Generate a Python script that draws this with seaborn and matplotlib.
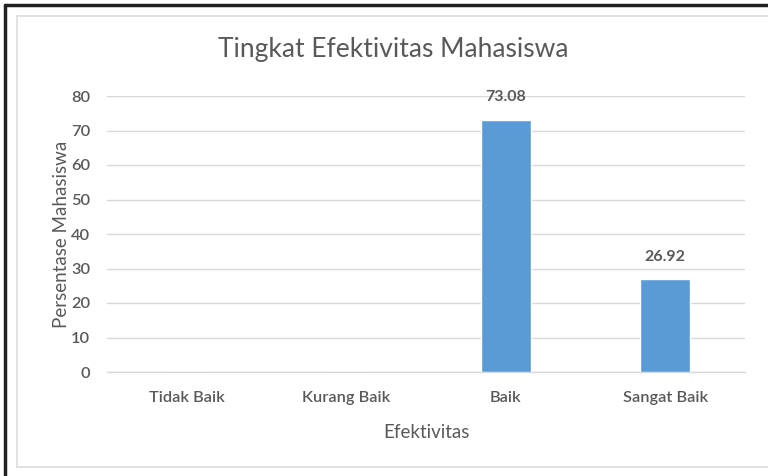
import matplotlib
matplotlib.use("Agg")
import matplotlib.pyplot as plt
import seaborn as sns
import pandas as pd
from matplotlib.lines import Line2D

categories = ["Tidak Baik", "Kurang Baik", "Baik", "Sangat Baik"]
values = [0, 0, 73.08, 26.92]
yticks = [0, 10, 20, 30, 40, 50, 60, 70, 80]
title = "Tingkat Efektivitas Mahasiswa"
xlabel = "Efektivitas"
ylabel = "Persentase Mahasiswa"

sns.set_theme(style="white")
plt.rcParams["font.family"] = ["Lato", "DejaVu Sans"]

df = pd.DataFrame({"cat": categories, "val": values})
grey = "#595959"
bar_color = "#5B9BD5"

fig = plt.figure(figsize=(7.68, 4.76), dpi=100)
ax = fig.add_axes([107/768, 1-372/476, (745-107)/768, (372-96)/476])

sns.barplot(data=df, x="cat", y="val", color=bar_color, width=0.315,
            saturation=1, ax=ax, zorder=3)
ax.set_xlim(-0.5, 3.5)
ax.set_ylim(0, 80)
ax.set_yticks(yticks)
ax.grid(axis="y", color="#D9D9D9", linewidth=1, zorder=0)
ax.grid(axis="x", visible=False)
for s in ["top", "right", "left"]:
    ax.spines[s].set_visible(False)
ax.spines["bottom"].set_color("#D9D9D9")
ax.spines["bottom"].set_linewidth(1)
ax.tick_params(axis="both", length=0, colors=grey, labelsize=11.8)
ax.tick_params(axis="x", pad=14)
ax.tick_params(axis="y", pad=12)
for lab in ax.get_xticklabels() + ax.get_yticklabels():
    lab.set_fontweight("semibold")
    lab.set_color(grey)

ax.set_xlabel(xlabel, fontsize=13.5, color=grey, labelpad=13)
ax.set_ylabel(ylabel, fontsize=13.5, color=grey, labelpad=1)

for i, v in enumerate(values):
    if v > 0:
        ax.text(i, v + 6.5, f"{v:.2f}", ha="center", va="center",
                fontsize=11.5, fontweight="bold", color=grey)

fig.text(393/768, 1-50/476, title, ha="center", va="center",
         fontsize=19, color=grey)

# outer borders
fig.add_artist(Line2D([5/768, 5/768], [0, 1-5/476], transform=fig.transFigure,
                      color="#222222", linewidth=2.5))
fig.add_artist(Line2D([5/768, 1], [1-5/476, 1-5/476], transform=fig.transFigure,
                      color="#222222", linewidth=2.5))
fig.add_artist(Line2D([17/768, 17/768], [1-467/476, 1-16/476], transform=fig.transFigure,
                      color="#DDDDDD", linewidth=1.2))
fig.add_artist(Line2D([17/768, 1], [1-16/476, 1-16/476], transform=fig.transFigure,
                      color="#DDDDDD", linewidth=1.2))
fig.add_artist(Line2D([17/768, 1], [1-467/476, 1-467/476], transform=fig.transFigure,
                      color="#DDDDDD", linewidth=1.2))

fig.savefig("out.png", dpi=100)
